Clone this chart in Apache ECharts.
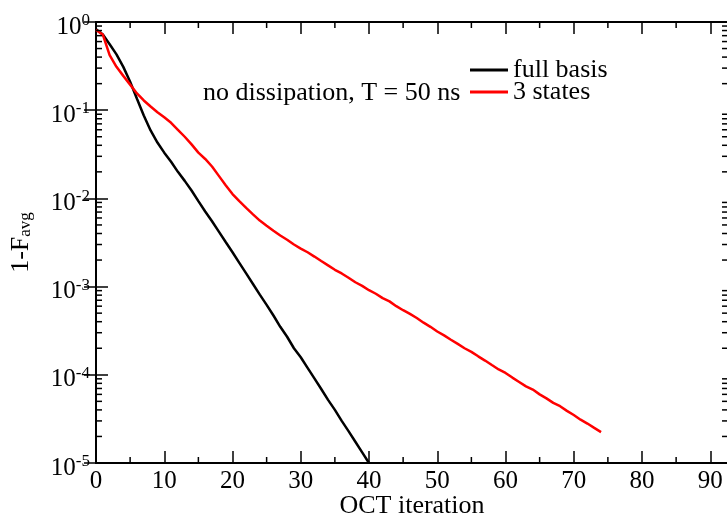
<!DOCTYPE html>
<html><head><meta charset="utf-8">
<script src="https://cdn.jsdelivr.net/npm/echarts@6/dist/echarts.min.js"></script>
<style>html,body{margin:0;padding:0;background:#fff}#c{width:727px;height:516px}</style>
</head><body><div id="c"></div>
<script>
// OCT iteration index = position in array (0,1,2,...)
const fullBasis = [0.83,0.72,0.56,0.43,0.31,0.21,0.135,0.087,0.059,0.043,
  0.033,0.026,0.020,0.0158,0.0123,0.0093,0.0071,0.0055,0.0042,0.0032,
  0.00245,0.00186,0.00141,0.00107,8.1e-4,6.2e-4,4.7e-4,3.5e-4,2.7e-4,2.0e-4,
  1.58e-4,1.20e-4,9.1e-5,6.9e-5,5.2e-5,4.0e-5,3.0e-5,2.3e-5,1.74e-5,1.32e-5,1.0e-5];
const threeStates = [0.81,0.72,0.42,0.31,0.245,0.195,0.155,0.129,0.110,0.095,
  0.083,0.072,0.060,0.050,0.041,0.033,0.028,0.023,0.018,0.0141,
  0.0112,0.0093,0.0078,0.0066,0.0056,0.0049,0.0043,0.0038,0.0034,0.0030,
  0.0027,0.00245,0.00219,0.00195,0.00174,0.00155,0.00141,0.00126,0.00112,0.00102,
  9.1e-4,8.3e-4,7.4e-4,6.8e-4,6.0e-4,5.4e-4,4.9e-4,4.4e-4,3.9e-4,3.5e-4,
  3.1e-4,2.8e-4,2.5e-4,2.24e-4,2.0e-4,1.82e-4,1.62e-4,1.45e-4,1.29e-4,1.15e-4,
  1.05e-4,9.3e-5,8.3e-5,7.4e-5,6.8e-5,6.0e-5,5.4e-5,4.8e-5,4.4e-5,3.9e-5,
  3.5e-5,3.1e-5,2.8e-5,2.5e-5,2.24e-5];
const seriesNames = ['full basis', '3 states'];
const seriesColors = ['#000000', '#ff0000'];
const annotation = 'no dissipation, T = 50 ns';
const xTitle = 'OCT iteration';
const X_MIN = 0, X_MAX = 92.6, Y_MIN = 1e-5, Y_MAX = 1;
const xMinorTicks = [5,15,25,35,45,55,65,75,85];
const yMantissas = [2,3,4,5,6,7,8,9];
const yDecades = [1e-5,1e-4,1e-3,1e-2,1e-1];

const FONT = 'Liberation Serif';
const yMinorTicks = [];
yDecades.forEach(d => yMantissas.forEach(m => yMinorTicks.push(m * d)));

const toPairs = arr => arr.map((v, i) => [i, v]);

const axisLineStyle = {color: '#000', width: 2};
const tickStyle = {color: '#000', width: 1.5};

const chart = echarts.init(document.getElementById('c'), null, {renderer: 'canvas'});
chart.setOption({
  animation: false,
  backgroundColor: '#fff',
  grid: {left: 96, right: -1, top: 22, bottom: 53, containLabel: false, outerBoundsMode: 'none'},
  title: {
    text: annotation, left: 198, top: 75,
    textStyle: {fontFamily: FONT, fontSize: 26, fontWeight: 'normal', color: '#000', lineHeight: 26}
  },
  legend: {
    data: seriesNames, orient: 'vertical', left: 465, top: 52,
    icon: 'rect', itemWidth: 38, itemHeight: 3, itemGap: -4,
    textStyle: {fontFamily: FONT, fontSize: 26, color: '#000', lineHeight: 22}
  },
  xAxis: [{
    type: 'value', min: X_MIN, max: X_MAX, interval: 10, position: 'bottom',
    axisLine: {lineStyle: axisLineStyle},
    axisTick: {inside: true, length: 12, lineStyle: tickStyle},
    axisLabel: {fontFamily: FONT, fontSize: 25, color: '#000', margin: 6, showMaxLabel: false},
    splitLine: {show: false},
    name: xTitle, nameLocation: 'middle', nameGap: 43, nameMoveOverlap: false,
    nameTextStyle: {fontFamily: FONT, fontSize: 26, color: '#000', verticalAlign: 'middle'}
  }, {
    type: 'value', min: X_MIN, max: X_MAX, interval: 10, position: 'top',
    axisLine: {lineStyle: axisLineStyle},
    axisTick: {inside: true, length: 12, lineStyle: tickStyle},
    axisLabel: {show: false}, splitLine: {show: false}
  }],
  yAxis: [{
    type: 'log', logBase: 10, min: Y_MIN, max: Y_MAX, position: 'left',
    axisLine: {lineStyle: axisLineStyle},
    axisTick: {inside: true, length: 12, lineStyle: tickStyle},
    splitLine: {show: false},
    axisLabel: {
      margin: 6, color: '#000', padding: [10, 0, 0, 0],
      formatter: v => '{b|10}{e|' + Math.round(Math.log10(v)) + '}',
      rich: {
        b: {fontFamily: FONT, fontSize: 25, color: '#000'},
        e: {fontFamily: FONT, fontSize: 17, color: '#000', padding: [0, 0, 13, 0]}
      }
    },
    name: '1-F{s|avg}', nameLocation: 'middle', nameGap: 62, nameRotate: 90,
    nameTextStyle: {
      fontFamily: FONT, fontSize: 26, color: '#000',
      rich: {s: {fontFamily: FONT, fontSize: 17, color: '#000', padding: [9, 0, 0, 0]}}
    }
  }, {
    type: 'log', logBase: 10, min: Y_MIN, max: Y_MAX, position: 'right',
    axisLine: {lineStyle: axisLineStyle},
    axisTick: {inside: true, length: 12, lineStyle: tickStyle},
    axisLabel: {show: false}, splitLine: {show: false}
  }],
  series: [{
    name: seriesNames[0], type: 'line', data: toPairs(fullBasis),
    showSymbol: false, color: seriesColors[0],
    lineStyle: {width: 2.5, color: seriesColors[0]}, z: 3
  }, {
    name: seriesNames[1], type: 'line', data: toPairs(threeStates),
    showSymbol: false, color: seriesColors[1],
    lineStyle: {width: 2.5, color: seriesColors[1]}, z: 4
  }, {
    type: 'custom', silent: true, z: 5,
    data: yMinorTicks.map(v => [X_MIN, v]),
    renderItem: (params, api) => {
      const v = api.value(1);
      const pL = api.coord([X_MIN, v]);
      const pR = api.coord([X_MAX, v]);
      return {type: 'group', children: [
        {type: 'line', shape: {x1: pL[0], y1: pL[1], x2: pL[0] + 6, y2: pL[1]}, style: {stroke: '#000', lineWidth: 1.5}},
        {type: 'line', shape: {x1: pR[0], y1: pR[1], x2: pR[0] - 6, y2: pR[1]}, style: {stroke: '#000', lineWidth: 1.5}}
      ]};
    }
  }, {
    type: 'custom', silent: true, z: 5,
    data: xMinorTicks.map(v => [v, Y_MIN]),
    renderItem: (params, api) => {
      const v = api.value(0);
      const pB = api.coord([v, Y_MIN]);
      const pT = api.coord([v, Y_MAX]);
      return {type: 'group', children: [
        {type: 'line', shape: {x1: pB[0], y1: pB[1], x2: pB[0], y2: pB[1] - 6}, style: {stroke: '#000', lineWidth: 1.5}},
        {type: 'line', shape: {x1: pT[0], y1: pT[1], x2: pT[0], y2: pT[1] + 6}, style: {stroke: '#000', lineWidth: 1.5}}
      ]};
    }
  }]
});
</script>
</body></html>
